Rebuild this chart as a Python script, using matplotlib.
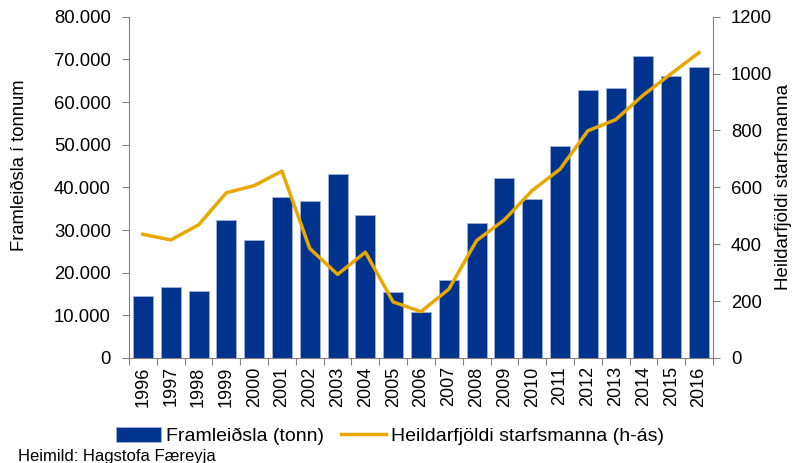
import matplotlib
matplotlib.use("Agg")
import matplotlib.pyplot as plt
from matplotlib.ticker import FuncFormatter, FixedLocator, NullFormatter

plt.rcParams["font.family"] = ["Liberation Sans", "DejaVu Sans"]

years = [str(y) for y in range(1996, 2017)]
framleidsla = [14500, 16600, 15700, 32300, 27600, 37800, 36900, 43200, 33600, 15500,
               10700, 18300, 31600, 42200, 37200, 49700, 62900, 63300, 70900, 66200, 68300]
starfsmenn = [435, 415, 468, 581, 606, 657, 385, 294, 372, 197,
              163, 242, 413, 486, 589, 664, 799, 838, 925, 1000, 1074]

BAR_COLOR = "#00338D"
LINE_COLOR = "#E8A800"
GREY = "#808080"

fig = plt.figure(figsize=(8.02, 4.63), dpi=100)
ax = fig.add_axes([129 / 802, 1 - 358 / 463, (713 - 129) / 802, (358 - 16.7) / 463])
ax2 = ax.twinx()

x = list(range(len(years)))
bars = ax.bar(x, framleidsla, width=0.72, color=BAR_COLOR, edgecolor="#9db0d8", linewidth=0.6,
              label="Framleiðsla (tonn)", zorder=2)
line, = ax2.plot(x, starfsmenn, color=LINE_COLOR, linewidth=2.5, label="Heildarfjöldi starfsmanna (h-ás)")

ax.set_xlim(-0.5, len(years) - 0.5)
ax.set_ylim(0, 80000)
ax2.set_ylim(0, 1200)
ax.set_yticks(range(0, 80001, 10000))
ax2.set_yticks(range(0, 1201, 200))
ax.yaxis.set_major_formatter(FuncFormatter(lambda v, p: f"{int(v):,}".replace(",", ".")))

# ticks between categories, labels in the middle
ax.xaxis.set_major_locator(FixedLocator([i - 0.5 for i in range(len(years) + 1)]))
ax.xaxis.set_major_formatter(NullFormatter())
ax.xaxis.set_minor_locator(FixedLocator(x))
ax.set_xticklabels(years, minor=True, rotation=90, fontsize=13)
ax.tick_params(axis="x", which="minor", length=0, pad=6)
ax.tick_params(axis="x", which="major", length=5, color=GREY, direction="out")

for a in (ax, ax2):
    a.spines["top"].set_visible(False)
    for s in ("left", "right", "bottom"):
        a.spines[s].set_color(GREY)
    a.tick_params(axis="y", labelsize=13.3, length=5, color=GREY, pad=8)
ax.spines["right"].set_visible(False)
ax2.spines["left"].set_visible(False)
ax2.spines["bottom"].set_visible(False)

fig.text(20 / 802, 1 - 165 / 463, "Framleiðsla í tonnum", fontsize=13.2, rotation=90,
         ha="center", va="center")
fig.text(783 / 802, 1 - 187 / 463, "Heildarfjöldi starfsmanna", fontsize=13.5, rotation=90,
         ha="center", va="center")

fig.legend([bars, line], ["Framleiðsla (tonn)", "Heildarfjöldi starfsmanna (h-ás)"],
           loc="center", bbox_to_anchor=(390 / 802, 1 - 436 / 463), ncol=2, frameon=False,
           fontsize=14, handlelength=2.3, handleheight=0.8, columnspacing=0.9, handletextpad=0.25)
fig.text(18 / 802, 1 - 456 / 463, "Heimild: Hagstofa Færeyja", fontsize=12, va="center")

fig.savefig("out.png", dpi=100)
